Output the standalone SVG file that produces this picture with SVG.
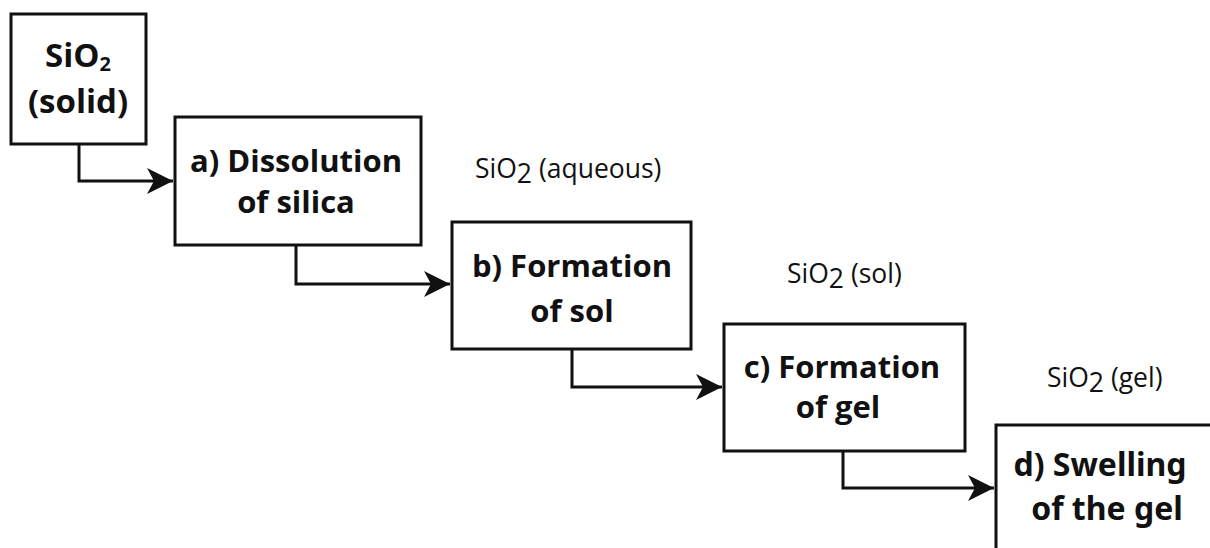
<svg xmlns="http://www.w3.org/2000/svg" width="1210" height="548" viewBox="0 0 1210 548">
  <style>
    .box { fill: #ffffff; stroke: #111111; stroke-width: 3; }
    .link { fill: none; stroke: #111111; stroke-width: 3; stroke-linejoin: miter; }
    .title { font-family: "Open Sans", "Liberation Sans", sans-serif; font-weight: 700; font-size: 31px; fill: #111111; text-anchor: middle; }
    .big { font-size: 33px; }
    .title2 { font-family: "Noto Sans", "Liberation Sans", sans-serif; font-weight: 700; font-size: 32px; fill: #111111; text-anchor: middle; }
    .state { font-family: "Open Sans", "Liberation Sans", sans-serif; font-weight: 400; font-size: 26.5px; fill: #111111; }
  </style>
  <defs>
    <marker id="arrow" markerUnits="userSpaceOnUse" markerWidth="28" markerHeight="28" refX="26" refY="13" orient="auto" viewBox="0 0 28 28">
      <path d="M0,0 L26,13 L0,26 L7,13 Z" fill="#111111"/>
    </marker>
  </defs>
  <rect width="1210" height="548" fill="#ffffff"/>

  <!-- process connectors -->
  <g id="connectors">
    <path class="link" d="M79,144 V181 H173" marker-end="url(#arrow)"/>
    <path class="link" d="M296,245 V284 H450" marker-end="url(#arrow)"/>
    <path class="link" d="M572,349 V387 H722" marker-end="url(#arrow)"/>
    <path class="link" d="M843,451 V488 H994" marker-end="url(#arrow)"/>
  </g>

  <g id="node-solid">
    <rect class="box" x="11" y="14" width="135" height="130"/>
    <text class="title big" x="78" y="67">SiO<tspan font-size="20" dy="4">2</tspan></text>
    <text class="title big" x="78" y="113">(solid)</text>
  </g>

  <g id="node-a">
    <rect class="box" x="175" y="117" width="246" height="128"/>
    <text class="title" x="296" y="172">a) Dissolution</text>
    <text class="title" x="296" y="213">of silica</text>
  </g>

  <g id="label-aqueous">
    <text class="state" x="475" y="178">SiO<tspan dy="5">2</tspan><tspan dy="-5"> (aqueous)</tspan></text>
  </g>

  <g id="node-b">
    <rect class="box" x="452" y="222" width="239" height="127"/>
    <text class="title" x="572" y="277">b) Formation</text>
    <text class="title" x="572" y="322">of sol</text>
  </g>

  <g id="label-sol">
    <text class="state" x="787" y="283">SiO<tspan dy="5">2</tspan><tspan dy="-5"> (sol)</tspan></text>
  </g>

  <g id="node-c">
    <rect class="box" x="724" y="324" width="241" height="127"/>
    <text class="title" x="842" y="378">c) Formation</text>
    <text class="title" x="838" y="418">of gel</text>
  </g>

  <g id="label-gel">
    <text class="state" x="1047" y="387">SiO<tspan dy="5">2</tspan><tspan dy="-5"> (gel)</tspan></text>
  </g>

  <g id="node-d">
    <rect class="box" x="996" y="425" width="230" height="140"/>
    <text class="title2" x="1100" y="476">d) Swelling</text>
    <text class="title2" x="1107" y="520">of the gel</text>
  </g>
</svg>
